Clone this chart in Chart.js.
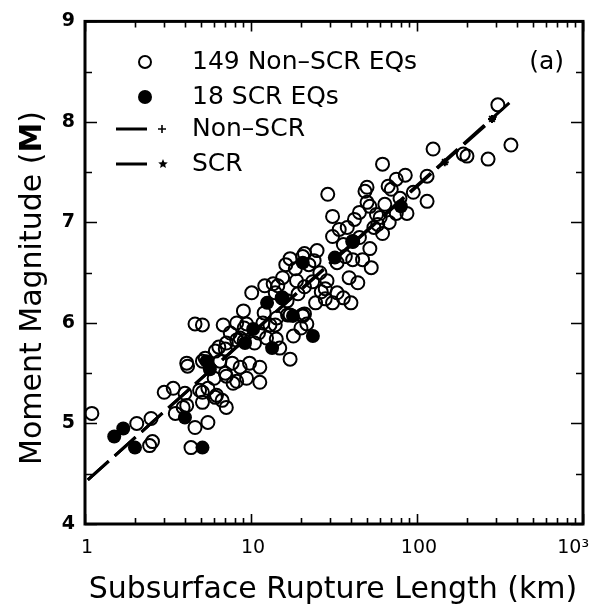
<!DOCTYPE html>
<html>
<head>
<meta charset="utf-8">
<script src="https://cdn.jsdelivr.net/npm/chart.js@4.4.1/dist/chart.umd.min.js"></script>
<style>
  html, body { margin: 0; padding: 0; background: #fff; }
  #wrap { width: 592px; height: 608px; }
</style>
</head>
<body>
<div id="wrap"><canvas id="quakeChart" width="592" height="608"></canvas></div>
<script>
// ---------- data ----------
const nonScrLength = [1.1,2.05,2.5,2.55,2.45,3.0,4.0,4.6,4.35,5.5,4.1,4.9,3.9,4.1,4.15,4.6,5.1,5.1,6.1,7.1,
  8.2,9.4,7.1,8.2,9.1,8.2,9.4,11.3,11.3,17.2,5.1,5.1,6.1,6.7,7.1,5.5,6.2,7.0,7.7,8.6,
  7.8,6.5,5.3,7.0,6.4,7.5,8.6,9.1,11.1,12.4,14.2,14.9,13.0,14.0,14.3,17.2,20.4,21.7,16.6,20.5,
  10.1,12.1,13.6,14.5,15.4,19.2,16.5,14.0,21,23.5,26.5,28,33,17.2,20.5,22.3,18.5,16.2,21,24,
  28.7,28,31,36,33,37,41,21,20,29,31,31,34,42,41,48.6,50,50,52,57,
  58,62,52,53,47,62,67,75,85,70,79,75,87,115,115,125,190,200,268,368,
  307,45,55,38,64,45,36,3.4,6.8,10.5,12,9.0,18,24.5,26,39,44,40,15.5,18.8,
  11.8,25,60,95,68,3.5,6.0,9.8];
const nonScrMag = [5.1,5.0,5.05,4.82,4.78,5.31,5.3,4.96,4.76,5.01,5.18,5.33,5.16,5.6,5.57,5.99,5.98,5.62,5.72,5.47,
  6.0,5.99,5.8,5.83,5.82,5.42,5.45,5.56,5.41,5.64,5.31,5.21,5.26,5.23,5.16,5.35,5.28,5.5,5.6,5.56,
  5.4,5.62,5.65,5.74,5.76,5.9,5.85,5.95,5.9,5.85,5.84,5.75,5.98,5.98,6.05,6.08,6.08,5.99,6.08,6.07,
  6.3,6.37,6.39,6.37,6.25,6.29,6.22,6.3,6.36,6.41,6.31,6.24,6.3,6.64,6.66,6.58,6.54,6.58,6.69,6.62,
  6.42,6.34,6.2,6.25,6.6,6.66,6.63,6.09,5.95,7.28,7.06,6.86,6.93,7.03,6.81,7.31,7.35,7.2,7.16,7.08,
  6.98,6.89,6.74,6.55,6.63,7.58,7.36,7.43,7.47,7.33,7.24,7.09,7.09,7.21,7.46,7.73,7.68,7.66,7.63,7.77,
  8.17,6.85,6.95,6.95,7.18,7.1,6.78,5.35,5.98,5.8,6.1,6.12,5.87,6.2,6.5,6.45,6.4,6.2,6.45,6.42,
  6.0,6.72,7.05,7.3,7.0,5.1,5.45,5.6];

const scrLength = [1.5,1.7,2.0,4.0,5.1,5.4,5.65,10.3,13.4,15.4,20.5,17.9,23.6,9.2,41,80,32,12.5];
const scrMag    = [4.87,4.95,4.76,5.06,4.76,5.62,5.54,5.94,5.75,6.25,6.6,6.07,5.87,5.8,6.81,7.16,6.65,6.2];

// regression lines (end points) and SCR star markers
const nonScrFitLength = [1.04, 360];
const nonScrFitMag    = [4.44, 8.19];
const scrFitLength    = [1.04, 300];
const scrFitMag       = [4.44, 8.06];
const scrStarLength   = [147, 283];
const scrStarMag      = [7.6, 8.03];

// axes
const xLabelValues = [1, 10, 100, 1000];
const xTickLabels  = ["1", "10", "100", "10\u00b3"];
const yTickLabels  = [4, 5, 6, 7, 8, 9];

const FONT = "'DejaVu Sans', sans-serif";
const pts = (xs, ys) => xs.map((x, i) => ({ x, y: ys[i] }));

// minor + major tick marks for the log axis
const xTickValues = [];
for (let d = 1; d < 1000; d *= 10) for (let k = 1; k < 10; k++) xTickValues.push(k * d);
xTickValues.push(1000);

/* ---------- frame, inward ticks, texts ---------- */
const framePlugin = {
  id: "frame",
  afterDatasetsDraw(chart) {
    const { ctx, chartArea: a, scales: { x, y } } = chart;
    ctx.save();
    ctx.strokeStyle = "#000";
    ctx.lineWidth = 1.6;
    ctx.beginPath();
    xTickValues.forEach(v => {
      const px = Math.round(x.getPixelForValue(v)) + 0.5;
      const len = xLabelValues.includes(v) ? 10 : 6;
      ctx.moveTo(px, a.bottom); ctx.lineTo(px, a.bottom - len);
      ctx.moveTo(px, a.top); ctx.lineTo(px, a.top + len);
    });
    for (let v = 4; v <= 9; v += 0.5) {
      const py = Math.round(y.getPixelForValue(v)) + 0.5;
      const len = Number.isInteger(v) ? 12 : 7;
      ctx.moveTo(a.left, py); ctx.lineTo(a.left + len, py);
      ctx.moveTo(a.right, py); ctx.lineTo(a.right - len, py);
    }
    ctx.stroke();
    ctx.lineWidth = 3;
    ctx.strokeRect(a.left, a.top, a.right - a.left, a.bottom - a.top);
    ctx.restore();
  },
  afterDraw(chart) {
    const { ctx, chartArea: a, scales: { x } } = chart;
    ctx.save();
    ctx.fillStyle = "#000";
    ctx.textBaseline = "middle";

    // x tick labels
    ctx.font = "19px " + FONT;
    xLabelValues.forEach((v, i) => {
      const px = x.getPixelForValue(v);
      if (i === xLabelValues.length - 1) {
        ctx.textAlign = "right";
        ctx.fillText(xTickLabels[i], px + 6, a.bottom + 24);
      } else {
        ctx.textAlign = "center";
        ctx.fillText(xTickLabels[i], px + 2, a.bottom + 24);
      }
    });

    // x title
    ctx.font = "30px " + FONT;
    ctx.textAlign = "center";
    ctx.fillText("Subsurface Rupture Length (km)", 333, 590);

    // y title, rotated, with bold M
    ctx.save();
    ctx.translate(33, 288);
    ctx.rotate(-Math.PI / 2);
    const p1 = "Moment Magnitude (", p2 = "M", p3 = ")";
    ctx.font = "30px " + FONT;
    const w1 = ctx.measureText(p1).width, w3 = ctx.measureText(p3).width;
    ctx.font = "bold 30px " + FONT;
    const w2 = ctx.measureText(p2).width;
    let sx = -(w1 + w2 + w3) / 2;
    ctx.textAlign = "left";
    ctx.font = "30px " + FONT; ctx.fillText(p1, sx, 0); sx += w1;
    ctx.font = "bold 30px " + FONT; ctx.fillText(p2, sx, 0); sx += w2;
    ctx.font = "30px " + FONT; ctx.fillText(p3, sx, 0);
    ctx.restore();

    // legend
    ctx.strokeStyle = "#000";
    ctx.lineWidth = 2;
    ctx.beginPath(); ctx.arc(145, 62, 6, 0, Math.PI * 2); ctx.stroke();
    ctx.beginPath(); ctx.arc(145, 97, 7, 0, Math.PI * 2); ctx.fill();
    ctx.lineWidth = 3;
    ctx.beginPath();
    ctx.moveTo(116, 129); ctx.lineTo(147, 129);
    ctx.moveTo(116, 164); ctx.lineTo(147, 164);
    ctx.stroke();
    ctx.lineWidth = 1.6;
    ctx.beginPath();
    ctx.moveTo(158, 129); ctx.lineTo(166, 129);
    ctx.moveTo(162, 125); ctx.lineTo(162, 133);
    ctx.stroke();
    drawStar(ctx, 163, 164, 5);

    ctx.font = "25px " + FONT;
    ctx.textAlign = "left";
    ctx.fillText("149 Non\u2013SCR EQs", 192, 62);
    ctx.fillText("18 SCR EQs", 192, 97);
    ctx.fillText("Non\u2013SCR", 192, 129);
    ctx.fillText("SCR", 192, 164);
    ctx.textAlign = "right";
    ctx.fillText("(a)", 564, 62);
    ctx.restore();
  }
};

function drawStar(ctx, cx, cy, r) {
  ctx.beginPath();
  for (let i = 0; i < 10; i++) {
    const rr = i % 2 ? r * 0.45 : r;
    const ang = -Math.PI / 2 + i * Math.PI / 5;
    ctx.lineTo(cx + rr * Math.cos(ang), cy + rr * Math.sin(ang));
  }
  ctx.closePath();
  ctx.fill();
}

/* ---------- chart ---------- */
const ctx = document.getElementById("quakeChart").getContext("2d");

new Chart(ctx, {
  type: "scatter",
  data: {
    datasets: [
      {
        label: "Non-SCR",
        type: "line",
        data: pts(nonScrFitLength, nonScrFitMag),
        borderColor: "#000",
        borderWidth: 3,
        borderDash: [28, 8],
        pointRadius: 0,
        fill: false,
      },
      {
        label: "SCR",
        type: "line",
        data: pts(scrFitLength, scrFitMag),
        borderColor: "#000",
        borderWidth: 3,
        borderDash: [28, 8],
        pointRadius: 0,
        fill: false,
      },
      {
        label: "SCR markers",
        data: pts(scrStarLength, scrStarMag),
        pointStyle: "star",
        pointRadius: 4,
        borderColor: "#000",
        borderWidth: 2,
      },
      {
        label: "149 Non-SCR EQs",
        data: pts(nonScrLength, nonScrMag),
        pointRadius: 6.5,
        borderWidth: 2,
        borderColor: "#000",
        backgroundColor: "rgba(0,0,0,0)",
      },
      {
        label: "18 SCR EQs",
        data: pts(scrLength, scrMag),
        pointRadius: 7,
        borderWidth: 0,
        backgroundColor: "#000",
      },
    ],
  },
  options: {
    responsive: false,
    animation: false,
    devicePixelRatio: 1,
    layout: { padding: { top: 19, right: 9, left: 0, bottom: 0 } },
    plugins: { legend: { display: false }, tooltip: { enabled: false } },
    scales: {
      x: {
        type: "logarithmic",
        min: 1,
        max: 1000,
        grid: { display: false, drawTicks: false },
        border: { display: false },
        ticks: { display: false },
        afterBuildTicks: s => { s.ticks = xTickValues.map(v => ({ value: v })); },
        afterFit: s => { s.height = 84; },
      },
      y: {
        min: 4,
        max: 9,
        grid: { display: false, drawTicks: false },
        border: { display: false },
        afterBuildTicks: s => { s.ticks = yTickLabels.map(v => ({ value: v })); },
        ticks: {
          color: "#000",
          padding: 10,
          font: { family: FONT, size: 19, weight: "bold" },
        },
        afterFit: s => { s.width = 85; },
      },
    },
  },
  plugins: [framePlugin],
});
</script>
</body>
</html>
